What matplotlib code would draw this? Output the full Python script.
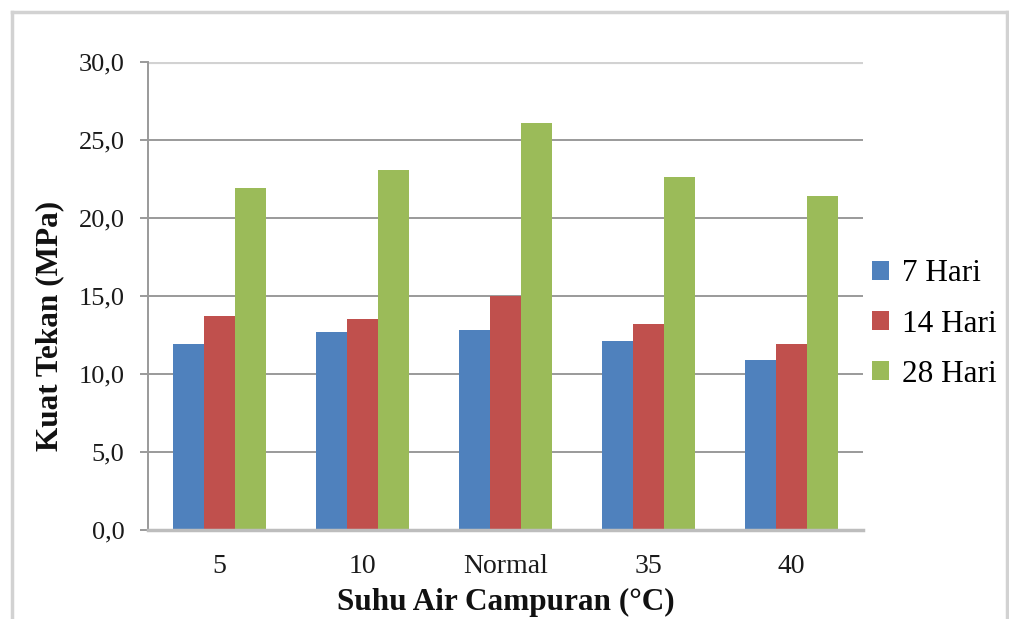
import matplotlib
matplotlib.use("Agg")
import matplotlib.pyplot as plt
from matplotlib.lines import Line2D
import numpy as np

# ────── Data ──────

categories = ["5", "10", "Normal", "35", "40"]
hari_7  = [11.9, 12.7, 12.8, 12.1, 10.9]
hari_14 = [13.7, 13.5, 15.0, 13.2, 11.9]
hari_28 = [21.9, 23.1, 26.1, 22.6, 21.4]
series_labels = ["7 Hari", "14 Hari", "28 Hari"]
y_ticks = [0, 5, 10, 15, 20, 25, 30]

# ────── Style ──────

COLORS = ["#4F81BD", "#C0504D", "#9BBB59"]
GRID   = "#9a9a9a"
LIGHT  = "#d2d2d2"

plt.rcParams["font.family"] = ["Liberation Serif", "DejaVu Serif"]

W, H = 1009, 619
fig = plt.figure(figsize=(W / 100, H / 100), dpi=100)
fig.patch.set_facecolor("white")

ax = fig.add_axes([148 / W, 1 - 530 / H, (863 - 148) / W, (530 - 62) / H])

x = np.arange(len(categories))
bw = 0.217
for k, vals in enumerate([hari_7, hari_14, hari_28]):
    ax.bar(x + (k - 1) * bw, vals, width=bw, color=COLORS[k],
           label=series_labels[k], zorder=3)

ax.set_xlim(-0.5, len(categories) - 0.5)
ax.set_ylim(0, 30)
ax.set_yticks(y_ticks)
ax.set_yticklabels([f"{v:.1f}".replace(".", ",") for v in y_ticks])
ax.set_xticks(x)
ax.set_xticklabels(categories)

# gridlines (top one lighter, like the original)
for v in y_ticks[1:-1]:
    ax.axhline(v, color=GRID, lw=1.4, zorder=1)
ax.axhline(30, color=LIGHT, lw=3, zorder=1)

for s in ["top", "right"]:
    ax.spines[s].set_visible(False)
ax.spines["left"].set_color(GRID)
ax.spines["left"].set_linewidth(1.4)
ax.spines["bottom"].set_color("#bdbdbd")
ax.spines["bottom"].set_linewidth(2.5)
ax.spines["bottom"].set_zorder(4)

ax.tick_params(axis="y", length=6, width=1.4, color=GRID, pad=11,
               labelsize=19, labelcolor="#1a1a1a")
ax.tick_params(axis="x", length=0, pad=17, labelsize=20, labelcolor="#1a1a1a")

ax.set_xlabel("Suhu Air Campuran (°C)", fontsize=22.5, fontweight="bold",
              labelpad=7, color="#111111")
ax.set_ylabel("Kuat Tekan (MPa)", fontsize=22.5, fontweight="bold",
              color="#111111")
ax.yaxis.set_label_coords(-0.117, 0.436)

ax.legend(loc="center left", bbox_to_anchor=(0.995, 0.44), frameon=False,
          fontsize=22.5, handlelength=0.55, handleheight=0.55,
          handletextpad=0.4, labelspacing=0.68, borderaxespad=0)

# ── outer frame of the chart ──
top = 1 - 12 / H
for xs, ys in [([12 / W, 12 / W], [0, top]),
               ([12 / W, 1007 / W], [top, top]),
               ([1007 / W, 1007 / W], [0, top])]:
    fig.add_artist(Line2D(xs, ys, color=LIGHT, lw=2.5,
                          transform=fig.transFigure))

fig.savefig("out.png", dpi=100)
